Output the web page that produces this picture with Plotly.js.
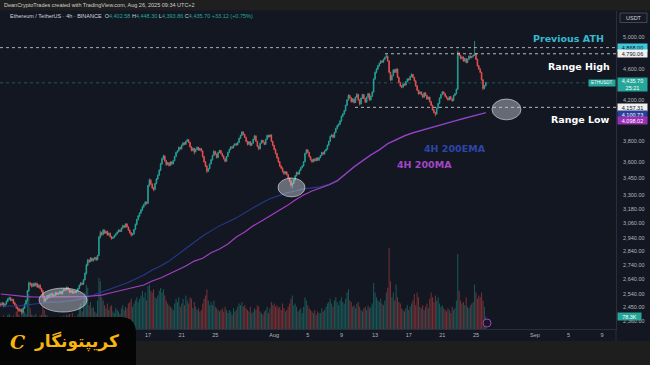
<!DOCTYPE html>
<html><head><meta charset="utf-8">
<script src="https://cdn.plot.ly/plotly-3.0.1.min.js"></script>
<style>html,body{margin:0;padding:0;background:#131722;overflow:hidden}#chart{width:650px;height:365px}</style>
</head><body><div id="chart"></div>
<script>
// ---- data (ETH/USDT 4h, Binance) ----
const firstOpen = 2470;
const closes = [
2465,2478,2458,2472,2490,2505, 2512,2495,2502,2478,2465,2448, 2440,2428,2435,2418,2445,2470,
2495,2560,2612,2605,2590,2608, 2595,2610,2585,2598,2575,2560, 2520,2492,2505,2528,2515,2535,
2540,2522,2530,2548,2536,2542, 2555,2540,2560,2572,2565,2582, 2568,2550,2562,2545,2555,2548,
2560,2575,2598,2612,2605,2635, 2680,2740,2775,2765,2790,2772, 2785,2795,2778,2810,2950,2985,
2970,3005,2982,2995,2968,2980, 2955,2940,2948,2962,2975,2990, 3005,2995,3020,3040,3030,3055,
3030,3005,2985,2968,2975,3010, 3050,3090,3120,3145,3170,3195, 3215,3235,3225,3380,3430,3395,
3360,3345,3400,3440,3475,3520, 3580,3630,3655,3610,3575,3590, 3565,3598,3580,3610,3650,3690,
3705,3740,3725,3760,3785,3770, 3800,3815,3790,3745,3710,3730, 3695,3720,3740,3712,3728,3705,
3650,3600,3560,3510,3535,3580, 3620,3660,3700,3675,3640,3690, 3710,3680,3655,3630,3605,3650,
3690,3720,3745,3735,3760,3775, 3765,3790,3830,3860,3895,3870, 3840,3800,3770,3795,3760,3780,
3820,3855,3800,3750,3725,3780, 3810,3790,3770,3820,3860,3845, 3865,3800,3760,3720,3680,3640,
3600,3560,3540,3510,3490,3505, 3480,3450,3420,3385,3400,3430, 3470,3500,3485,3520,3545,3560,
3600,3680,3715,3690,3650,3620, 3600,3625,3610,3635,3615,3640, 3660,3690,3675,3705,3720,3760,
3800,3850,3865,3840,3890,3930, 3960,3975,4010,4060,4085,4120, 4180,4240,4290,4265,4220,4250,
4210,4270,4300,4240,4195,4260, 4300,4255,4215,4270,4310,4240, 4280,4330,4480,4560,4600,4640,
4670,4700,4685,4720,4745,4760, 4700,4560,4470,4520,4590,4560, 4600,4500,4440,4400,4385,4420,
4410,4450,4480,4470,4510,4535, 4500,4460,4400,4350,4310,4330, 4300,4270,4320,4290,4250,4270,
4220,4180,4130,4100,4085,4150, 4200,4260,4300,4330,4310,4280, 4260,4240,4275,4250,4232,4290,
4310,4360,4800,4770,4730,4750, 4700,4730,4680,4720,4760,4740, 4755,4770,4790,4720,4640,4600,
4560,4470,4370,4402.58,4435.70];
const highs = [
2482,2486,2483,2477,2496,2512, 2520,2518,2508,2506,2485,2470, 2455,2446,2440,2442,2450,2476,
2500,2565,2625,2620,2612,2615, 2615,2618,2614,2602,2604,2580, 2564,2526,2510,2532,2534,2540,
2546,2544,2535,2552,2550,2548, 2560,2558,2565,2578,2576,2590, 2586,2572,2566,2566,2560,2560,
2564,2580,2602,2620,2618,2640, 2688,2750,2785,2782,2798,2795, 2790,2800,2800,2815,2960,3000,
2992,3015,3010,3000,3002,2986, 2985,2960,2952,2968,2980,2995, 3012,3010,3025,3048,3045,3060,
3060,3035,3010,2990,2980,3015, 3058,3096,3128,3150,3178,3205, 3222,3245,3240,3390,3445,3438,
3400,3370,3405,3448,3482,3530, 3590,3640,3670,3662,3618,3598, 3596,3605,3604,3616,3658,3698,
3712,3748,3745,3768,3792,3790, 3808,3825,3820,3795,3752,3738, 3735,3726,3748,3745,3735,3732,
3710,3656,3606,3566,3542,3586, 3626,3668,3712,3705,3680,3695, 3715,3714,3686,3662,3636,3656,
3696,3726,3752,3750,3766,3782, 3782,3796,3838,3868,3905,3900, 3875,3846,3806,3800,3802,3786,
3826,3865,3860,3805,3756,3786, 3815,3816,3795,3826,3868,3866, 3872,3870,3806,3765,3726,3686,
3646,3606,3568,3548,3515,3512, 3510,3486,3456,3425,3405,3436, 3476,3508,3505,3526,3550,3568,
3606,3688,3725,3720,3696,3656, 3626,3630,3632,3640,3642,3646, 3666,3696,3695,3710,3728,3768,
3808,3858,3875,3870,3896,3940, 3970,3985,4018,4068,4095,4130, 4188,4248,4305,4298,4272,4258,
4256,4278,4318,4306,4246,4266, 4310,4306,4262,4278,4320,4316, 4288,4338,4490,4572,4610,4650,
4678,4710,4708,4728,4752,4785, 4768,4708,4570,4528,4598,4600, 4608,4606,4508,4448,4410,4428,
4428,4458,4488,4490,4518,4548, 4540,4506,4466,4408,4356,4338, 4336,4308,4326,4328,4296,4278,
4276,4228,4186,4138,4108,4156, 4208,4268,4308,4340,4336,4316, 4288,4266,4282,4280,4256,4296,
4318,4370,4830,4810,4778,4758, 4756,4738,4736,4728,4768,4770, 4762,4778,4955,4798,4728,4648,
4610,4568,4478,4410,4448.30];
const lows = [
2455,2460,2450,2452,2468,2485, 2498,2490,2490,2472,2458,2440, 2432,2420,2422,2405,2412,2440,
2462,2490,2552,2595,2582,2585, 2588,2590,2578,2580,2570,2550, 2515,2482,2488,2500,2508,2510,
2528,2515,2518,2526,2530,2532, 2538,2535,2536,2555,2560,2562, 2562,2544,2546,2540,2540,2542,
2544,2556,2570,2592,2598,2600, 2630,2672,2732,2755,2760,2765, 2765,2778,2770,2775,2805,2940,
2960,2965,2975,2975,2960,2962, 2945,2930,2935,2942,2956,2970, 2985,2988,2990,3015,3022,3025,
3025,3000,2978,2955,2960,2970, 3005,3042,3082,3110,3138,3162, 3188,3205,3215,3220,3370,3385,
3350,3330,3340,3392,3432,3468, 3512,3572,3620,3600,3560,3568, 3555,3560,3572,3575,3605,3645,
3682,3700,3718,3720,3752,3762, 3765,3795,3782,3738,3700,3702, 3670,3690,3715,3705,3708,3698,
3640,3592,3550,3495,3505,3530, 3575,3612,3655,3665,3632,3635, 3684,3675,3648,3622,3595,3600,
3645,3684,3715,3728,3730,3755, 3755,3760,3785,3825,3855,3862, 3835,3792,3758,3765,3750,3755,
3775,3815,3795,3742,3712,3720, 3775,3784,3762,3765,3815,3838, 3840,3795,3752,3712,3672,3630,
3592,3552,3532,3500,3478,3482, 3472,3440,3410,3370,3356,3392, 3425,3462,3478,3480,3515,3538,
3555,3595,3672,3684,3642,3612, 3590,3596,3602,3605,3608,3610, 3634,3655,3668,3670,3700,3715,
3755,3795,3842,3832,3835,3885, 3922,3950,3968,4002,4050,4078, 4112,4172,4232,4255,4210,4212,
4200,4205,4262,4232,4178,4188, 4252,4248,4205,4208,4262,4232, 4232,4272,4322,4470,4548,4590,
4630,4662,4676,4678,4712,4738, 4692,4550,4455,4462,4512,4552, 4552,4492,4432,4390,4372,4378,
4400,4402,4442,4462,4464,4502, 4492,4452,4392,4340,4298,4302, 4292,4262,4265,4282,4240,4245,
4212,4172,4122,4090,4060,4078, 4142,4192,4252,4292,4302,4272, 4252,4232,4235,4242,4218,4226,
4282,4302,4352,4760,4720,4722, 4690,4692,4670,4672,4712,4732, 4732,4746,4762,4710,4630,4590,
4552,4462,4350,4362,4393.86];
const volumesK = [
70,55,85,60,75,90, 95,80,70,85,75,110, 120,90,70,130,100,110, 95,180,220,130,90,85,
80,95,75,70,85,90, 140,120,90,85,70,60, 55,65,50,60,70,55, 75,80,60,85,70,90,
85,95,70,100,65,80, 75,95,140,160,110,180, 230,280,260,150,170,130, 140,110,100,180,320,300,
200,180,150,130,160,120, 140,150,110,100,130,120, 110,95,130,150,120,140, 130,160,170,190,140,160,
180,200,170,190,210,240, 200,230,180,270,280,240, 230,250,200,190,210,240, 260,230,250,210,180,160,
150,140,130,120,160,190, 170,200,140,160,190,150, 210,180,160,200,190,130, 170,140,120,130,110,120,
160,190,210,250,180,150, 170,150,180,140,130,120, 110,120,130,110,140,120, 100,120,110,90,130,110,
120,140,160,150,170,140, 150,130,120,110,140,100, 110,130,120,150,140,110, 100,90,110,120,140,100,
130,170,150,160,140,150, 130,140,120,160,130,110, 120,140,160,190,210,150, 160,140,110,120,130,100,
140,200,180,150,130,120, 110,100,120,90,110,100, 100,130,110,120,140,160, 170,190,160,140,180,200,
170,150,180,200,170,160, 190,230,250,180,170,140, 150,130,160,170,140,120, 110,130,140,120,150,130,
140,160,290,230,200,180, 170,190,160,150,180,230, 260,510,300,200,230,180, 280,200,170,160,130,120,
110,130,150,120,140,160, 180,220,150,230,200,140, 130,150,120,140,160,130, 190,230,200,170,210,180,
200,160,140,150,130,120, 110,130,120,100,140,120, 130,180,470,240,180,160, 170,150,200,140,130,150,
160,170,280,230,190,210, 200,230,180,140,78.3];
// 4H 200MA and 4H 200EMA, read once per day (every 6th candle) plus the last candle
const ma200 = [2538,2531,2525,2521,2518,2518,2517,2517,2518,2518,2521,2525,2531,2545,2558,2572,2585,2599,
2627,2648,2676,2704,2733,2769,2790,2830,2859,2897,2951,2991,3039,3079,3120,3162,3204,3255,3298,3333,
3360,3386,3422,3486,3551,3608,3666,3715,3775,3815,3855,3886,3912,3935,3960,3985,4010,4035,4058,4080,4098.02];
const ema200 = [2459,2459,2459,2465,2472,2478,2485,2485,2491,2498,2511,2531,2551,2572,2592,2613,2641,2669,
2704,2733,2769,2814,2866,2912,2959,2999,3039,3071,3104,3145,3187,3229,3264,3290,3316,3333,3351,3360,
3369,3393,3428,3491,3556,3612,3670,3719,3779,3819,3859,3890,3916,3939,3964,3989,4014,4038,4061,4083,4100.73];
const dateTicks = ['2025-07-17','2025-07-21','2025-07-25','2025-08-01','2025-08-05','2025-08-09','2025-08-13',
'2025-08-17','2025-08-21','2025-08-25','2025-09-01','2025-09-05','2025-09-09'];
const dateTickText = ['17','21','25','Aug','5','9','13','17','21','25','Sep','5','9'];
const priceTicks = [5000,4600,4200,3800,3600,3450,3300,3180,3060,2940,2840,2740,2640,2540,2450,2360];
const prevATH = 4868.00, rangeHigh = 4790.06, rangeLow = 4157.31, lastPrice = 4435.70;

// ---- build ----
const startMs = Date.UTC(2025,5,29,12);
const fmt = ms => new Date(ms).toISOString().slice(0,19).replace('T',' ');
const times = closes.map((_,i)=>fmt(startMs + i*4*3600e3));
const opens = closes.map((c,i)=> i===0 ? firstOpen : closes[i-1]);
const maIdx = ma200.map((_,d)=> d < ma200.length-1 ? d*6 : closes.length-1);
const maTimes = maIdx.map(i=>times[i]);
const UP='#26a69a', DN='#ef5350';
const volColors = closes.map((c,i)=> c>=opens[i] ? 'rgba(38,166,154,0.45)' : 'rgba(239,83,80,0.45)');

const traces = [
 {type:'bar', x:times, y:volumesK, yaxis:'y', xaxis:'x', marker:{color:volColors, line:{width:0}}, width:4*3600e3*0.72, hoverinfo:'skip'},
 {type:'candlestick', x:times, open:opens, high:highs, low:lows, close:closes, yaxis:'y2', xaxis:'x',
  increasing:{line:{color:UP,width:0.8}, fillcolor:UP}, decreasing:{line:{color:DN,width:0.8}, fillcolor:DN},
  whiskerwidth:0, hoverinfo:'skip'},
 {type:'scatter', mode:'lines', x:maTimes, y:ema200, yaxis:'y2', line:{color:'#27398a', width:1.1}, hoverinfo:'skip'},
 {type:'scatter', mode:'lines', x:maTimes, y:ma200, yaxis:'y2', line:{color:'#a23fc2', width:1.2}, hoverinfo:'skip'}
];

const PX = x => x/616, PY = y => (329-y)/318;   // decoration placement helpers (pixels -> paper)
const fmtPrice = v=>v.toLocaleString('en-US',{minimumFractionDigits:2,maximumFractionDigits:2});
const liftedTick = 4200;   // label partly hidden by the 4,157.31 tag in the reference, drawn a little higher
const tickText = priceTicks.map(v=> v===liftedTick ? '' : fmtPrice(v));
const F = 'Liberation Sans';
const lvl = (v,x0,x1,xr,color)=>({type:'line', xref:xr, yref:'y2', x0:x0, x1:x1, y0:v, y1:v, line:{color:color, width:1, dash:'dot'}, layer:'above'});
const ell = (x0,x1,y0,y1)=>({type:'circle', xref:'x', yref:'y2', x0:x0, x1:x1, y0:y0, y1:y1, fillcolor:'rgba(205,208,218,0.45)', line:{color:'rgba(225,228,235,0.6)', width:1}, layer:'above'});
const shapes = [
 lvl(prevATH,0,1,'paper','rgba(225,225,230,0.75)'),
 lvl(lastPrice,0,1,'paper','rgba(38,166,154,0.45)'),
 lvl(rangeHigh,'2025-08-14 04:20','2025-09-10 15:33','x','rgba(225,225,230,0.8)'),
 lvl(rangeLow,'2025-08-10 14:40','2025-09-10 15:33','x','rgba(225,225,230,0.8)'),
 ell('2025-08-26 21:36','2025-08-30 08:24',4022,4250),
 ell('2025-08-01 11:00','2025-08-04 16:00',3281,3449),
 ell('2025-07-04 01:00','2025-07-09 18:00',2420,2578),
 {type:'rect', xref:'paper', yref:'paper', x0:-0.01, x1:1.07, y0:PY(10.5), y1:PY(-2), fillcolor:'#1f1f1f', line:{width:0}, layer:'above'},
 {type:'rect', xref:'paper', yref:'paper', x0:-0.01, x1:1.07, y0:PY(367), y1:PY(341), fillcolor:'#1e1e1e', line:{width:0}, layer:'above'},
 {type:'line', xref:'paper', yref:'paper', x0:1, x1:1, y0:PY(341), y1:PY(329), line:{color:'#2a2e39', width:1}, layer:'above'},
 {type:'rect', xref:'paper', yref:'paper', x0:PX(620), x1:PX(647), y0:PY(22.5), y1:PY(13), fillcolor:'#161a25', line:{color:'#434651', width:1}, layer:'above'},
 {type:'circle', xref:'paper', yref:'paper', x0:PX(483), x1:PX(491), y0:PY(327), y1:PY(319), fillcolor:'#1b1528', line:{color:'#9c3fc0', width:1}, layer:'above'},
 {type:'path', xref:'paper', yref:'paper', layer:'above', fillcolor:'#050505', line:{width:0},
  path:`M ${PX(-2)},${PY(317)} L ${PX(120)},${PY(317)} Q ${PX(136)},${PY(317)} ${PX(136)},${PY(333)} L ${PX(136)},${PY(367)} L ${PX(-2)},${PY(367)} Z`}
];

const lab = (v,text,bg,fg,ys,h)=>({xref:'paper', yref:'y2', x:PX(617), y:Math.log10(v), xanchor:'left', yanchor:'middle', yshift:ys||0,
  text:text, showarrow:false, bgcolor:bg, width:28, height:h||6, borderpad:0.5, align:'center', font:{family:F, size:5.5, color:fg}});
const txt = (x,y,text,size,color,fam,anchor)=>({xref:'paper', yref:'paper', x:PX(x), y:PY(y), text:text, showarrow:false,
  xanchor:anchor||'center', yanchor:'middle', font:{family:fam||F, size:size, color:color}});
const g = s=>`<span style="color:#d1d4dc">${s}</span>`, t = s=>`<span style="color:#26a69a">${s}</span>`;
const annotations = [
 txt(2,5.5,'DeanCryptoTrades created with TradingView.com, Aug 26, 2025 09:34 UTC+2',5.5,'#d0d0d0',F,'left'),
 txt(8,15.5, g('Ethereum / TetherUS · 4h · BINANCE')+'&nbsp;&nbsp;'+g('O')+t('4,402.58')+'&nbsp;'+g('H')+t('4,448.30')+'&nbsp;'+g('L')+t('4,393.86')+'&nbsp;'+g('C')+t('4,435.70')+'&nbsp;'+t('+33.12 (+0.75%)'),5.5,'#d1d4dc',F,'left'),
 txt(633.5,17.8,'USDT',5.5,'#d1d4dc'),
 txt(568,39,'<b>Previous ATH</b>',9.5,'#35b9cf','DejaVu Sans'),
 txt(579,67,'<b>Range High</b>',9.5,'#ffffff','DejaVu Sans'),
 txt(580,119,'<b>Range Low</b>',9.5,'#ffffff','DejaVu Sans'),
 txt(454.5,148,'<b>4H 200EMA</b>',9.5,'#2e45a8','DejaVu Sans'),
 txt(424,164,'<b>4H 200MA</b>',9.5,'#a247c2','DejaVu Sans'),
 {xref:'paper', yref:'y2', x:PX(621), y:Math.log10(liftedTick), xanchor:'left', yanchor:'middle', yshift:3.5, text:fmtPrice(liftedTick),
  showarrow:false, font:{family:F, size:5.5, color:'#b2b5be'}},
 lab(prevATH,'4,868.00','#3cc9da','#10141f',0),
 lab(rangeHigh,'4,790.06','#f0f0f0','#10141f',0),
 lab(lastPrice,'4,435.70<br>25:21','#26a69a','#ffffff',-1.5,12),
 {xref:'paper', yref:'y2', x:1, y:Math.log10(lastPrice), xanchor:'right', yanchor:'middle', yshift:-0.5, text:'ETHUSDT', showarrow:false,
  bgcolor:'#26a69a', width:25, height:5, borderpad:0.3, font:{family:F, size:4.5, color:'#ffffff'}},
 lab(rangeLow,'4,157.31','#f0f0f0','#10141f',-0.5),
 lab(4100.73,'4,100.73','#2a3f9a','#ffffff',-2),
 lab(4098.02,'4,098.02','#9a2fb5','#ffffff',-8),
 {xref:'paper', yref:'y', x:PX(617), y:78.3, xanchor:'left', yanchor:'middle', text:'78.3K', showarrow:false, bgcolor:'#26a69a',
  width:22, height:6, borderpad:0.5, font:{family:F, size:5.5, color:'#ffffff'}},
 txt(76,341,'<b>کریپتونگار</b>',17,'#f7b50d','DejaVu Sans'),
 txt(17,342,'<b><i>C</i></b>',19,'#f7b50d','DejaVu Serif')
];

const layout = {
 width:650, height:365, margin:{l:0, r:34, t:11, b:36, pad:0},
 paper_bgcolor:'#131722', plot_bgcolor:'#131722', showlegend:false, bargap:0.25,
 font:{family:F, color:'#b2b5be', size:5.5},
 xaxis:{type:'date', range:['2025-06-29 09:39','2025-09-10 15:33'], rangeslider:{visible:false}, showgrid:false, zeroline:false,
   tickmode:'array', tickvals:dateTicks, ticktext:dateTickText, ticks:'', tickfont:{family:F, size:5.5, color:'#b2b5be'},
   showline:true, linecolor:'#2a2e39', linewidth:1, fixedrange:true},
 yaxis:{range:[0,2000], visible:false, fixedrange:true, showgrid:false, zeroline:false},
 yaxis2:{type:'log', overlaying:'y', side:'right', anchor:'x', range:[3.36433,3.72942], tickmode:'array', tickvals:priceTicks, ticktext:tickText,
   ticks:'', ticklabelstandoff:5, tickfont:{family:F, size:5.5, color:'#b2b5be'}, showgrid:false, zeroline:false,
   showline:true, linecolor:'#2a2e39', linewidth:1, fixedrange:true},
 shapes:shapes, annotations:annotations
};
Plotly.newPlot('chart', traces, layout, {staticPlot:true, displayModeBar:false});
</script>
</body></html>
